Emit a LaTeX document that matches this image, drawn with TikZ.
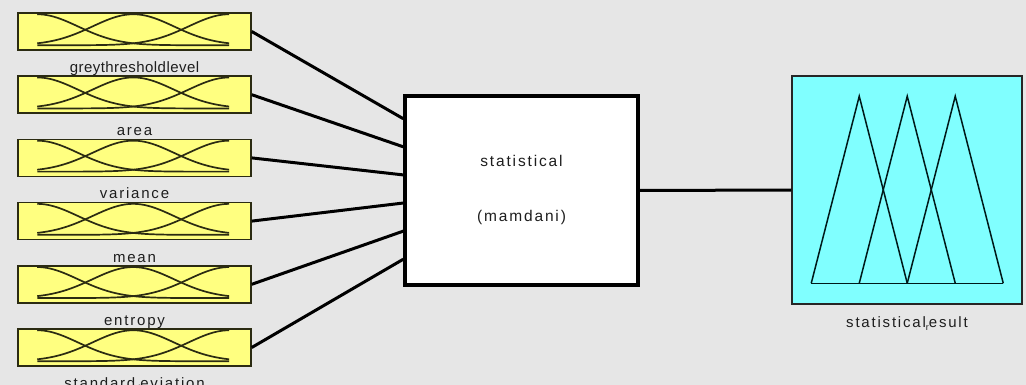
\documentclass[tikz,border=0pt]{standalone}
\usepackage{fontspec}
\setmainfont{Liberation Sans}
\newfontfamily\lblfont[LetterSpace=12]{Liberation Sans}
\newfontfamily\tightfont[LetterSpace=3]{Liberation Sans}
\definecolor{bgcol}{HTML}{E6E6E6}
\definecolor{mfyellow}{HTML}{FFFF80}
\definecolor{outcyan}{HTML}{80FFFF}
\definecolor{mfline}{HTML}{2B2B12}
\definecolor{txtcol}{HTML}{1E1E1E}
\begin{document}
\begin{tikzpicture}[x=1pt,y=-1pt,
  inbox/.style={draw=mfline,line width=1.5pt,fill=mfyellow,minimum width=233pt,minimum height=37pt,inner sep=0pt},
  fisbox/.style={draw=black,line width=3.5pt,fill=white,minimum width=233pt,minimum height=189pt,inner sep=0pt},
  outbox/.style={draw=black!85,line width=1.5pt,fill=outcyan,minimum width=230pt,minimum height=228pt,inner sep=0pt},
  mf/.style={draw=mfline,line width=1.7pt},
  trimf/.style={draw=black!80!teal,line width=1.5pt,line join=miter},
  conn/.style={draw=black,line width=3pt},
  lbl/.style={font=\lblfont\fontsize{15}{17}\selectfont,text=txtcol,inner sep=0pt,anchor=base},
  biglbl/.style={lbl,font=\lblfont\fontsize{15.5}{17}\selectfont}]
% canvas
\fill[bgcol] (0,0) rectangle (1026,385);
\useasboundingbox (0,0) rectangle (1026,385);

% inference system block
\node[fisbox] (fis) at (521.5,190.5) {};
\node[biglbl] (fistitle) at (521.5,167) {statistical};
\node[biglbl] (fistype) at (521.5,222) {(mamdani)};

% output variable block with three triangular sets
\node[outbox] (out) at (907,190) {};
\begin{scope}[shift={(out.north west)}]
  \draw[trimf] (20,208) -- (212,208);
  \draw[trimf] (20,208) -- (68,21) -- (116,208);
  \draw[trimf] (68,208) -- (116,21) -- (164,208);
  \draw[trimf] (116,208) -- (164,21) -- (212,208);
\end{scope}
\node[lbl] (outlabel) at (907,327) {statistical\raisebox{-3pt}{\fontsize{9}{10}\selectfont r}esult};
\draw[conn] (fis.east) -- (out.west);

% input variable blocks with three gaussian sets each
\foreach \i/\txt in {1/{\tightfont greythresholdlevel},2/area,3/variance,4/mean,5/entropy,6/standard\raisebox{-3pt}{\fontsize{9}{10}\selectfont d}eviation}{
  \pgfmathsetmacro\cy{31.5+63.2*(\i-1)}
  \node[inbox] (in\i) at (134.5,\cy) {};
  \begin{scope}[shift={(in\i.north west)}]
    \draw[mf] plot[domain=0:1,samples=60,variable=\u] ({20+192*\u},{33-31*exp(-(\u*\u)/0.0901)});
    \draw[mf] plot[domain=0:1,samples=60,variable=\u] ({20+192*\u},{33-31*exp(-((\u-0.5)*(\u-0.5))/0.0901)});
    \draw[mf] plot[domain=0:1,samples=60,variable=\u] ({20+192*\u},{33-31*exp(-((\u-1)*(\u-1))/0.0901)});
  \end{scope}
  \node[lbl] (name\i) at (134.5,\cy+41) {\txt};
  \pgfmathsetmacro\pp{(24+27.6*(\i-1))/189}
  \path (fis.north west) -- (fis.south west) coordinate[pos=\pp] (p\i);
  \draw[conn] (in\i.east) -- (p\i);
}
\end{tikzpicture}
\end{document}
